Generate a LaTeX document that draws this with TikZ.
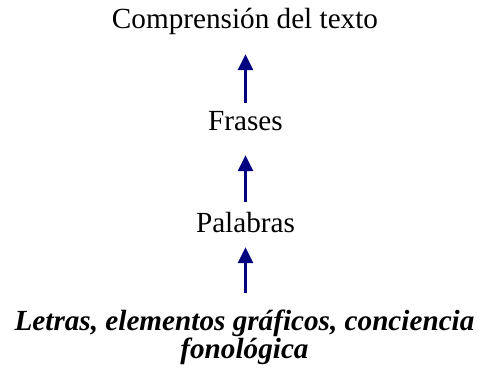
\documentclass[tikz,border=0pt]{standalone}
\usepackage{fontspec}
\setmainfont{Liberation Serif}
\usetikzlibrary{arrows.meta}
\definecolor{azul}{RGB}{0,0,128}

\tikzstyle{nivel} = [align=center, inner sep=0pt, anchor=base, font=\fontsize{29.2}{25.5}\selectfont]
\tikzstyle{linea} = [nivel, text height=20pt, text depth=7pt]
\tikzstyle{sube} = [-{Triangle[length=16pt,width=15pt]}, draw=azul, line width=2.5pt]

\begin{document}
\begin{tikzpicture}[auto]
\useasboundingbox (0,0) rectangle (479pt,-374pt);
\node [linea] (texto) at (245pt,-29pt) {Comprensión del texto};
\node [linea] (frases) at (245.5pt,-131pt) {Frases};
\node [linea] (palabras) at (245.5pt,-233pt) {Palabras};
\node [nivel, font=\fontsize{29.2}{25.5}\selectfont\bfseries\itshape] (letras) at (244.5pt,-358.5pt) {Letras, elementos gráficos, conciencia\\fonológica};

\draw [sube, shorten <=8pt, shorten >=18pt] (frases.north) -- (frases.north |- texto.south);
\draw [sube, shorten <=11pt, shorten >=17pt] (palabras.north) -- (palabras.north |- frases.south);
\draw [sube, shorten <=17pt, shorten >=7pt] (palabras.north |- letras.north) -- (palabras.south);
\end{tikzpicture}
\end{document}
